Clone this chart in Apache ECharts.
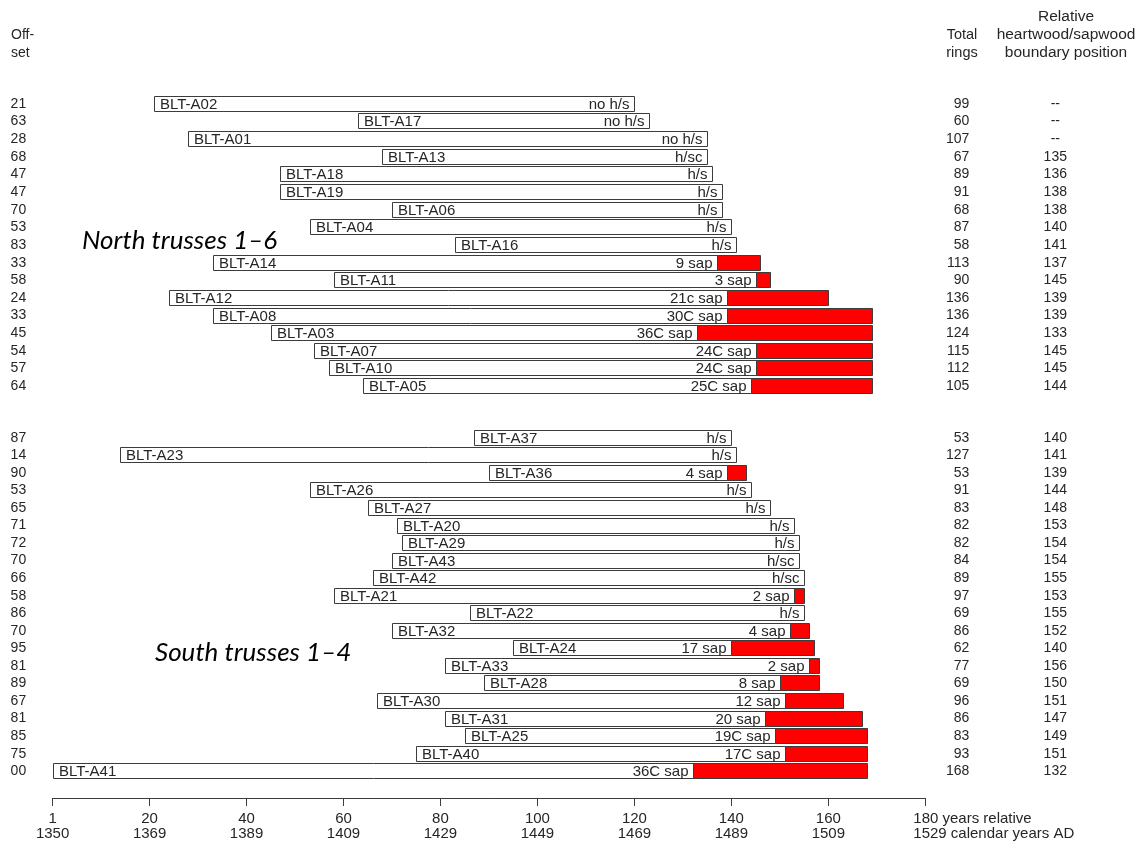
<!DOCTYPE html>
<html><head><meta charset="utf-8">
<script src="https://cdn.jsdelivr.net/npm/echarts@6/dist/echarts.min.js"></script>
<style>html,body{margin:0;padding:0;background:#fff}#c{width:1146px;height:843px}</style>
</head><body><div id="c"></div><script>
// ---- North trusses 1-6 ----
const northNames = ['BLT-A02','BLT-A17','BLT-A01','BLT-A13','BLT-A18','BLT-A19','BLT-A06','BLT-A04','BLT-A16','BLT-A14','BLT-A11','BLT-A12','BLT-A08','BLT-A03','BLT-A07','BLT-A10','BLT-A05'];
const northOffsets = [21,63,28,68,47,47,70,53,83,33,58,24,33,45,54,57,64];
const northRings = [99,60,107,67,89,91,68,87,58,113,90,136,136,124,115,112,105];
const northBoundary = [null,null,null,135,136,138,138,140,141,137,145,139,139,133,145,145,144];
const northNotes = ['no h/s','no h/s','no h/s','h/sc','h/s','h/s','h/s','h/s','h/s','9 sap','3 sap','21c sap','30C sap','36C sap','24C sap','24C sap','25C sap'];
// ---- South trusses 1-4 ----
const southNames = ['BLT-A37','BLT-A23','BLT-A36','BLT-A26','BLT-A27','BLT-A20','BLT-A29','BLT-A43','BLT-A42','BLT-A21','BLT-A22','BLT-A32','BLT-A24','BLT-A33','BLT-A28','BLT-A30','BLT-A31','BLT-A25','BLT-A40','BLT-A41'];
const southOffsets = [87,14,90,53,65,71,72,70,66,58,86,70,95,81,89,67,81,85,75,0];
const southRings = [53,127,53,91,83,82,82,84,89,97,69,86,62,77,69,96,86,83,93,168];
const southBoundary = [140,141,139,144,148,153,154,154,155,153,155,152,140,156,150,151,147,149,151,132];
const southNotes = ['h/s','h/s','4 sap','h/s','h/s','h/s','h/s','h/sc','h/sc','2 sap','h/s','4 sap','17 sap','2 sap','8 sap','12 sap','20 sap','19C sap','17C sap','36C sap'];
// ---- axis tick labels ----
const relTickLabels = ['1','20','40','60','80','100','120','140','160','180'];
const calTickLabels = ['1350','1369','1389','1409','1429','1449','1469','1489','1509','1529'];

const FONT = 'Liberation Sans, Arial, sans-serif';
const TXT = '#262626';

function buildData(offsets, rings, boundary){
  return offsets.map((o,i)=>{
    const end = o + rings[i];
    const b = boundary[i] == null ? end : boundary[i];
    return [o, b, end, i];
  });
}
function makeRender(names, notes){
  return function(params, api){
    const off = api.value(0), bnd = api.value(1), end = api.value(2), row = api.value(3);
    const p0 = api.coord([off,row]), pb = api.coord([bnd,row]), pe = api.coord([end,row]);
    const h = api.size([0,1])[1] - 1.5;
    const y = Math.round(p0[1] - h/2) + 0.5;
    const x0 = Math.round(p0[0]) + 0.5, xb = Math.round(pb[0]) + 0.5, xe = Math.round(pe[0]) + 0.5;
    const hh = Math.round(h) - 1;
    const ch = [];
    ch.push({type:'rect', shape:{x:x0, y:y, width:xb-x0, height:hh}, style:{fill:'#ffffff', stroke:'#3c3c3c', lineWidth:1}});
    if (end > bnd) ch.push({type:'rect', shape:{x:xb, y:y, width:xe-xb, height:hh}, style:{fill:'#ff0000', stroke:'#3c3c3c', lineWidth:1}});
    ch.push({type:'text', style:{x:x0+5.5, y:y+hh/2+1, text:names[params.dataIndex], fill:TXT, font:'15px '+FONT, align:'left', verticalAlign:'middle'}});
    ch.push({type:'text', style:{x:xb-5, y:y+hh/2+1, text:notes[params.dataIndex], fill:TXT, font:'15px '+FONT, align:'right', verticalAlign:'middle'}});
    return {type:'group', children:ch};
  };
}
function pad2(n){ return String(n).padStart(2,'0'); }

function yAxes(gridIndex, names, offsets, rings, boundary){
  const base = {type:'category', gridIndex:gridIndex, data:names, inverse:true,
    axisLine:{show:false}, axisTick:{show:false}, splitLine:{show:false}};
  const lab = {interval:0, hideOverlap:false, fontSize:14, fontFamily:FONT, color:TXT};
  return [
    Object.assign({}, base, {position:'left', axisLabel:Object.assign({}, lab, {margin:42, align:'left',
      formatter:(v,i)=>pad2(offsets[i])})}),
    Object.assign({}, base, {position:'right', axisLabel:Object.assign({}, lab, {margin:44, align:'right',
      formatter:(v,i)=>String(rings[i])})}),
    Object.assign({}, base, {position:'right', axisLabel:Object.assign({}, lab, {margin:130, align:'center',
      formatter:(v,i)=> boundary[i]==null ? '--' : String(boundary[i])})})
  ];
}

const chart = echarts.init(document.getElementById('c'), null, {renderer:'canvas'});
const option = {
  backgroundColor:'#ffffff',
  animation:false,
  grid:[
    {left:52.6, width:872.7, top:95, height:300},
    {left:52.6, width:872.7, top:429, height:351}
  ],
  xAxis:[
    {type:'value', gridIndex:0, min:0, max:180, interval:20, show:false},
    {type:'value', gridIndex:1, min:0, max:180, interval:20, position:'bottom', offset:18,
      axisLine:{show:true, lineStyle:{color:'#3c3c3c', width:1}},
      axisTick:{show:true, length:8, lineStyle:{color:'#3c3c3c'}},
      splitLine:{show:false},
      axisLabel:{margin:13, fontSize:15, lineHeight:15, fontFamily:FONT, color:TXT, width:24, overflow:'none',
        rich:{c:{align:'center', fontSize:15, lineHeight:15, fontFamily:FONT, color:TXT},
              l:{align:'left', fontSize:15, lineHeight:15, fontFamily:FONT, color:TXT}},
        formatter:(v)=>{
          const k = Math.round(v/20);
          if (k === relTickLabels.length-1) return '{l|'+relTickLabels[k]+' years relative}\n{l|'+calTickLabels[k]+' calendar years AD}';
          return '{c|'+relTickLabels[k]+'}\n{c|'+calTickLabels[k]+'}';
        }}}
  ],
  yAxis:[].concat(
    yAxes(0, northNames, northOffsets, northRings, northBoundary),
    yAxes(1, southNames, southOffsets, southRings, southBoundary)
  ),
  series:[
    {type:'custom', xAxisIndex:0, yAxisIndex:0, encode:{x:[0,1,2], y:3},
      renderItem:makeRender(northNames, northNotes), data:buildData(northOffsets, northRings, northBoundary), silent:true},
    {type:'custom', xAxisIndex:1, yAxisIndex:3, encode:{x:[0,1,2], y:3},
      renderItem:makeRender(southNames, southNotes), data:buildData(southOffsets, southRings, southBoundary), silent:true}
  ],
  graphic:[
    {type:'text', left:11, top:26, style:{text:'Off-\nset', font:'14px '+FONT, fill:TXT, lineHeight:18}},
    {type:'text', x:962, y:26, style:{text:'Total\nrings', font:'14.5px '+FONT, fill:TXT, lineHeight:18, align:'center'}},
    {type:'text', x:1066, y:8, style:{text:'Relative\nheartwood/sapwood\nboundary position', font:'15.5px '+FONT, fill:TXT, lineHeight:18, align:'center'}},
    {type:'text', x:82, y:228, style:{text:'North trusses 1\u20136', font:'italic 26px Lato, "Open Sans", sans-serif', fill:'#000', verticalAlign:'alphabetic'}},
    {type:'text', x:155, y:640, style:{text:'South trusses 1\u20134', font:'italic 26px Lato, "Open Sans", sans-serif', fill:'#000', verticalAlign:'alphabetic'}}
  ]
};
chart.setOption(option);
</script></body></html>
